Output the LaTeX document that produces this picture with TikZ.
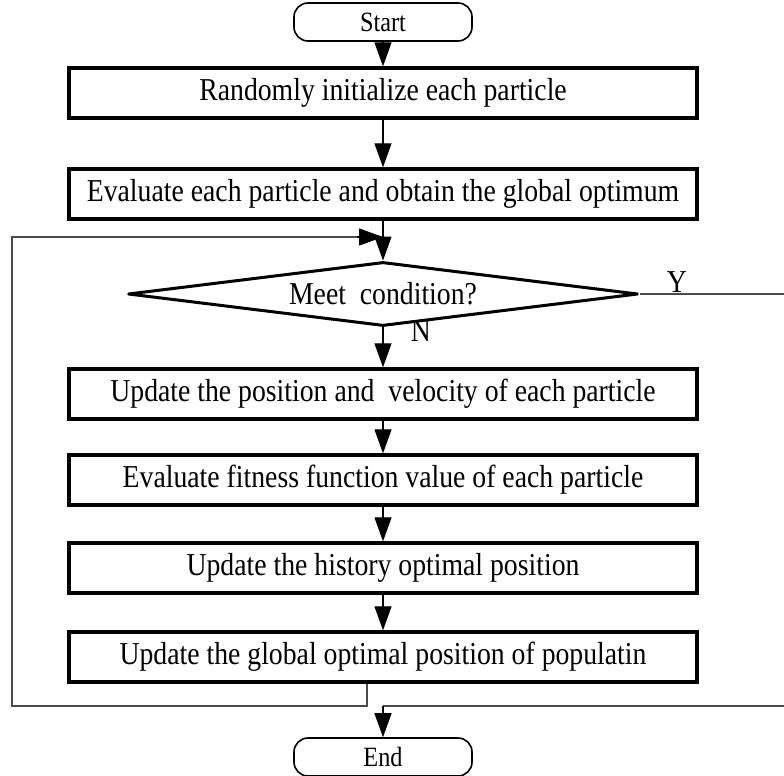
\documentclass[tikz,border=0pt]{standalone}
\usepackage{fontspec}
\setmainfont{Liberation Serif}
\usetikzlibrary{shapes.geometric,arrows.meta}
\newcommand{\cond}[1]{\scalebox{0.87}[1]{#1}}
\begin{document}
\begin{tikzpicture}[x=1bp,y=-1bp,
  every node/.style={font=\fontsize{32}{36}\selectfont},
  procbox/.style={draw, line width=3.4bp, minimum width=628bp, minimum height=50bp, inner sep=0pt},
  termbox/.style={draw, line width=1.6bp, rounded corners=14bp, minimum width=178bp, minimum height=38bp, inner sep=0pt},
  decbox/.style={draw, line width=3bp, line join=round, diamond, aspect=8, minimum width=510bp, minimum height=64bp, inner sep=0pt},
  flow/.style={line width=1.2bp, -{Triangle[length=24bp,width=17bp]}},
  loopline/.style={line width=1.3bp, draw=black!70}
]
\useasboundingbox (0,0) rectangle (784,776);
\node[termbox, font=\fontsize{28}{30}\selectfont] (start) at (383,22) {\cond{Start}};
\node[procbox] (b1) at (383,93) {\cond{Randomly initialize each particle}};
\node[procbox] (b2) at (383,194) {\cond{Evaluate each particle and obtain the global optimum}};
\node[decbox] (d) at (383,294) {\cond{Meet\ \ condition?}};
\node[procbox] (b3) at (383,394) {\cond{Update the position and\ \ velocity of each particle}};
\node[procbox] (b4) at (383,480) {\cond{Evaluate fitness function value of each particle}};
\node[procbox] (b5) at (383,568) {\cond{Update the history optimal position}};
\node[procbox] (b6) at (383,657) {\cond{Update the global optimal position of populatin}};
\node[termbox, font=\fontsize{28}{30}\selectfont] (end) at (383,757) {\cond{End}};
\node (ylab) at (677,282) {\cond{Y}};
\node (nlab) at (421,331) {\cond{N}};
\coordinate (merge) at (383,237);
\coordinate (lt) at (12,237);
\coordinate (lb) at (12,706);
\coordinate (b6drop) at (367,706);
\coordinate (yr) at (784,294);
\coordinate (yb) at (784,706);
\coordinate (j) at (383,706);
\draw[flow] (start) -- (b1);
\draw[flow] (b1) -- (b2);
\draw[flow] (b2) -- (d);
\draw[flow] (d) -- (b3);
\draw[flow] (b3) -- (b4);
\draw[flow] (b4) -- (b5);
\draw[flow] (b5) -- (b6);
\draw[loopline] (b6.south -| b6drop) -- (b6drop) -- (lb) -- (lt) -- ([xshift=-20bp]merge);
\draw[line width=1.2bp, -{Triangle[length=24bp,width=17bp]}] ([xshift=-26bp]merge) -- (merge);
\draw[loopline] (d.east) -- (yr);
\draw[loopline] (yb) -- (j);
\draw[flow] (j) -- (end);
\end{tikzpicture}
\end{document}
